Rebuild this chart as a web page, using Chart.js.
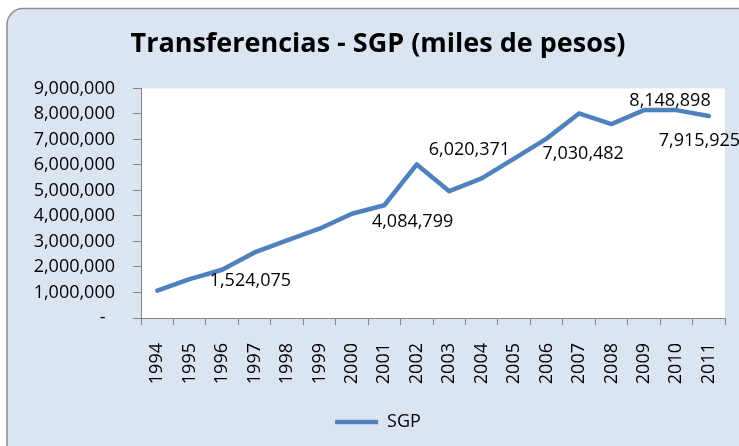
<!DOCTYPE html>
<html lang="es">
<head>
<meta charset="UTF-8">
<title>Transferencias - SGP</title>
<script src="https://cdn.jsdelivr.net/npm/chart.js"></script>
<style>
    body { margin: 0; background: #fff; }
    canvas { display: block; }
</style>
</head>
<body>
<canvas id="grafico_sgp" width="739" height="446"></canvas>
<script>
    const anos = ['1994', '1995', '1996', '1997', '1998', '1999', '2000', '2001', '2002',
                  '2003', '2004', '2005', '2006', '2007', '2008', '2009', '2010', '2011'];
    const valores_sgp = [1075000, 1524075, 1890000, 2570000, 3040000, 3500000, 4084799, 4420000, 6020371,
                         4970000, 5470000, 6250000, 7030482, 8020000, 7600000, 8150000, 8148898, 7915925];
    const anos_con_etiqueta = ['1995', '2000', '2002', '2006', '2010', '2011'];
    const ticks_y = [0, 1000000, 2000000, 3000000, 4000000, 5000000, 6000000, 7000000, 8000000, 9000000];

    // desplazamiento de cada etiqueta respecto a su punto (px)
    const desp_etiquetas = {
        '1995': [20, 2], '2000': [20, 8], '2002': [12, -15],
        '2006': [-4, 15], '2010': [-47, -9], '2011': [-50, 25]
    };

    const fondo = {
        id: 'fondo',
        beforeDraw(chart) {
            const ctx = chart.ctx, a = chart.chartArea;
            ctx.save();
            ctx.fillStyle = '#ffffff';
            ctx.fillRect(0, 0, chart.width, chart.height);
            ctx.beginPath();
            ctx.roundRect(7, 8.5, 760, 460, 16);
            ctx.fillStyle = '#DBE5F1';
            ctx.fill();
            ctx.lineWidth = 1.5;
            ctx.strokeStyle = '#8C8C8C';
            ctx.stroke();
            ctx.fillStyle = '#ffffff';
            ctx.fillRect(a.left, a.top, a.right - a.left, a.bottom - a.top);
            ctx.restore();
        }
    };

    const etiquetas = {
        id: 'etiquetas',
        afterDatasetsDraw(chart) {
            const ctx = chart.ctx;
            const meta = chart.getDatasetMeta(0);
            ctx.save();
            ctx.font = '18px "Open Sans"';
            ctx.fillStyle = '#000';
            ctx.textAlign = 'left';
            ctx.textBaseline = 'middle';
            anos_con_etiqueta.forEach(ano => {
                const i = anos.indexOf(ano);
                const p = meta.data[i];
                const d = desp_etiquetas[ano];
                ctx.fillText(valores_sgp[i].toLocaleString('en-US'), p.x + d[0], p.y + d[1]);
            });
            ctx.restore();
        }
    };

    Chart.defaults.font.family = '"Open Sans"';
    Chart.defaults.color = '#000';

    new Chart(document.getElementById('grafico_sgp'), {
        type: 'line',
        data: {
            labels: anos,
            datasets: [{
                label: 'SGP',
                data: valores_sgp,
                borderColor: '#4F81BD',
                backgroundColor: '#4F81BD',
                borderWidth: 4.5,
                borderJoinStyle: 'round',
                borderCapStyle: 'round',
                pointRadius: 0,
                tension: 0
            }]
        },
        options: {
            responsive: false,
            animation: false,
            devicePixelRatio: 1,
            layout: { padding: { left: 17, right: 0, top: 0, bottom: 5 } },
            plugins: {
                title: {
                    display: true,
                    text: 'Transferencias - SGP (miles de pesos)',
                    font: { size: 27, weight: 'bold' },
                    color: '#000',
                    padding: { top: 28, bottom: 28 }
                },
                legend: {
                    position: 'bottom',
                    labels: {
                        usePointStyle: true,
                        pointStyle: 'line',
                        pointStyleWidth: 43,
                        font: { size: 18 },
                        color: '#000',
                        padding: 10
                    }
                },
                tooltip: { enabled: false }
            },
            scales: {
                x: {
                    offset: true,
                    grid: { offset: true, drawOnChartArea: false, tickLength: 7, color: '#868686' },
                    border: { color: '#868686', width: 1 },
                    ticks: { minRotation: 90, maxRotation: 90, padding: 18, font: { size: 18 }, color: '#000' },
                    afterFit: s => { s.height = 85; s.paddingLeft = 0; s.paddingRight = 0; }
                },
                y: {
                    min: 0,
                    max: 9000000,
                    afterBuildTicks: s => { s.ticks = ticks_y.map(v => ({ value: v })); },
                    grid: { drawOnChartArea: false, tickLength: 8, color: '#868686' },
                    border: { color: '#868686', width: 1 },
                    ticks: {
                        padding: 18,
                        font: { size: 18 },
                        color: '#000',
                        callback: v => v === 0 ? '-  ' : v.toLocaleString('en-US')
                    },
                    afterFit: s => { s.width = 124; }
                },
                // margen derecho del area del grafico
                y2: {
                    position: 'right',
                    grid: { display: false },
                    border: { display: false },
                    ticks: { display: false },
                    afterFit: s => { s.width = 14; }
                }
            }
        },
        plugins: [fondo, etiquetas]
    });
</script>
</body>
</html>
